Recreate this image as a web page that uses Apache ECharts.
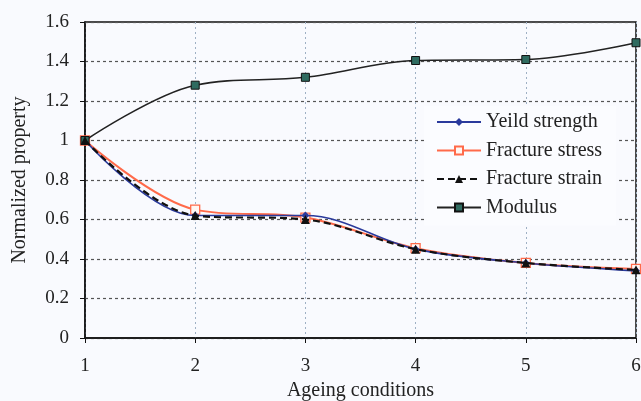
<!DOCTYPE html>
<html>
<head>
<meta charset="utf-8">
<script src="https://cdn.jsdelivr.net/npm/echarts@6/dist/echarts.min.js"></script>
<style>
  html, body { margin: 0; padding: 0; background: #f9fafe; }
  #chart { width: 641px; height: 401px; }
</style>
</head>
<body>
<div id="chart"></div>
<script>
// Ageing conditions 1..6 and normalized properties
const conditions = [1, 2, 3, 4, 5, 6];
const yieldStrength = [1, 0.62, 0.62, 0.45, 0.38, 0.34];
const fractureStress = [1, 0.65, 0.61, 0.455, 0.38, 0.35];
const fractureStrain = [1, 0.62, 0.60, 0.45, 0.38, 0.345];
const modulus = [1, 1.28, 1.32, 1.405, 1.41, 1.495];
const yTicks = [0, 0.2, 0.4, 0.6, 0.8, 1, 1.2, 1.4, 1.6];

const pairs = vals => conditions.map((c, i) => [c, vals[i]]);
const font = '"Liberation Serif", "DejaVu Serif", serif';

const chart = echarts.init(document.getElementById('chart'), null, { renderer: 'canvas' });
chart.setOption({
  backgroundColor: '#f9fafe',
  textStyle: { fontFamily: font },
  animation: false,
  grid: {
    left: 85, right: 5, top: 22, bottom: 63,
    outerBoundsMode: 'none', containLabel: false,
    show: true, borderColor: '#111', borderWidth: 1.5
  },
  xAxis: {
    type: 'value', min: 1, max: 6, interval: 1,
    name: 'Ageing conditions', nameLocation: 'middle', nameGap: 43,
    nameTextStyle: { fontFamily: font, fontSize: 20, color: '#222' },
    axisLine: { lineStyle: { color: '#111', width: 1.5 } },
    axisTick: { show: true, length: 5, lineStyle: { color: '#111' } },
    axisLabel: { fontFamily: font, fontSize: 19, color: '#222', margin: 19 },
    splitLine: { show: true, lineStyle: { color: '#9fb0c4', type: [2, 3], width: 1 } }
  },
  yAxis: {
    type: 'value', min: 0, max: 1.6, interval: 0.2,
    name: 'Normalized property', nameLocation: 'middle', nameGap: 55,
    nameTextStyle: { fontFamily: font, fontSize: 20, color: '#222' },
    axisLine: { show: true, lineStyle: { color: '#111', width: 1.5 } },
    axisTick: { show: true, length: 5, lineStyle: { color: '#111' } },
    axisLabel: {
      fontFamily: font, fontSize: 19, color: '#222', margin: 16,
      formatter: v => { const t = yTicks.find(x => Math.abs(x - v) < 1e-6); return t === undefined ? '' : String(t); }
    },
    splitLine: { show: true, lineStyle: { color: '#555', type: [3, 3], width: 1.2 } }
  },
  legend: {
    orient: 'vertical', left: 424, top: 106,
    backgroundColor: '#fbfcff', padding: [6, 14, 8, 12],
    itemWidth: 44, itemHeight: 10, itemGap: 8.5,
    textStyle: { fontFamily: font, fontSize: 20, color: '#222' },
    data: ['Yeild strength', 'Fracture stress', 'Fracture strain', 'Modulus']
  },
  series: [
    {
      name: 'Yeild strength', type: 'line', smooth: 0.35, data: pairs(yieldStrength),
      symbol: 'diamond', symbolSize: 8,
      lineStyle: { color: '#2a3a9c', width: 1.6 },
      itemStyle: { color: '#2a3a9c' }, z: 3
    },
    {
      name: 'Fracture stress', type: 'line', smooth: 0.35, data: pairs(fractureStress),
      symbol: 'rect', symbolSize: 9,
      lineStyle: { color: '#ff6a4a', width: 2 },
      itemStyle: { color: '#fff6f2', borderColor: '#ff6a4a', borderWidth: 1.3 }, z: 2
    },
    {
      name: 'Fracture strain', type: 'line', smooth: 0.35, data: pairs(fractureStrain),
      symbol: 'triangle', symbolSize: 9,
      lineStyle: { color: '#111', width: 2.2, type: [7, 4] },
      itemStyle: { color: '#111' }, z: 4
    },
    {
      name: 'Modulus', type: 'line', smooth: 0.35, data: pairs(modulus),
      symbol: 'rect', symbolSize: 8,
      lineStyle: { color: '#222', width: 1.6 },
      itemStyle: { color: '#2f6b60', borderColor: '#111', borderWidth: 1 }, z: 3
    }
  ]
});
</script>
</body>
</html>
